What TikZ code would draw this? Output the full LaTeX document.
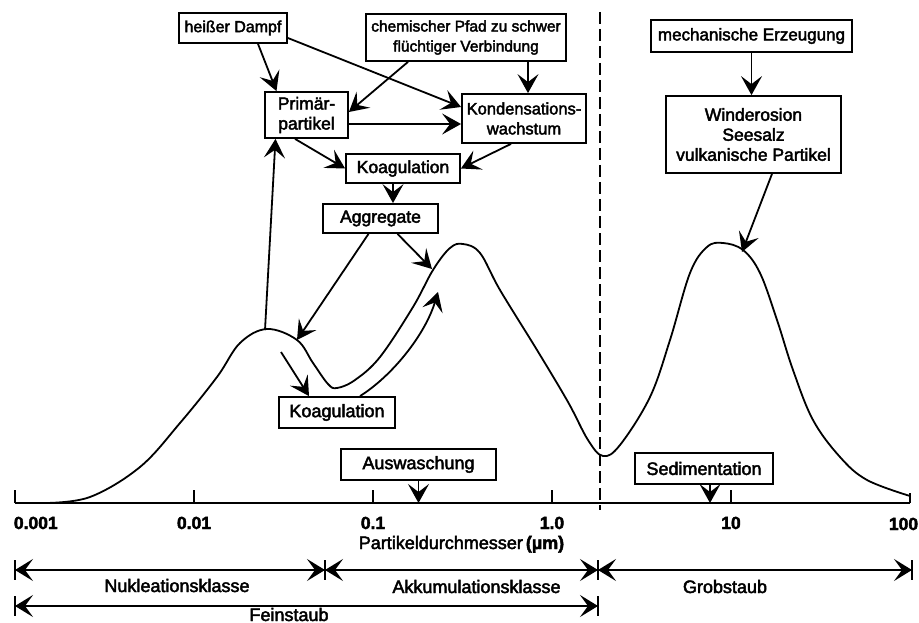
\documentclass[tikz,border=0pt]{standalone}
\usepackage{fontspec}
\setmainfont{Liberation Sans}[FakeBold=2.5]
\usetikzlibrary{arrows.meta}

\begin{document}
\begin{tikzpicture}[x=1pt,y=-1pt,line width=1.8pt,
  arr/.style={-{Stealth[length=19pt,width=21pt,inset=8pt]}},
  rng/.style={{Stealth[length=18pt,width=22pt,inset=8pt]}-{Stealth[length=18pt,width=22pt,inset=8pt]}},
  every node/.style={font=\fontsize{18}{20}\selectfont},
  box/.style={draw,inner sep=1pt,align=center},
  mid/.style={font=\fontsize{17.5}{20}\selectfont},
  top/.style={font=\fontsize{16.5}{20}\selectfont},
  num/.style={font=\fontsize{17.5}{20}\selectfont\bfseries,inner sep=1pt}]
\useasboundingbox (0,0) rectangle (919,623);
\node[box,top,minimum width=108pt,minimum height=30pt,font=\fontsize{16}{20}\selectfont] (heiss) at (233,28) {heißer Dampf};
\node[box,top,minimum width=200pt,minimum height=47pt,font=\fontsize{15.5}{20}\selectfont] (chem) at (466,37.5) {chemischer Pfad zu schwer\\flüchtiger Verbindung};
\node[box,mid,minimum width=83pt,minimum height=46pt] (prim) at (306.5,115) {Primär-\\partikel};
\node[box,top,minimum width=124pt,minimum height=49pt] (kond) at (524,118.5) {Kondensations-\\wachstum};
\node[box,mid,minimum width=114pt,minimum height=29pt] (koagA) at (403,168.5) {Koagulation};
\node[box,mid,minimum width=115pt,minimum height=29pt] (agg) at (380.5,218.5) {Aggregate};
\node[box,minimum width=116pt,minimum height=31pt] (koagB) at (337,412.5) {Koagulation};
\node[box,minimum width=155pt,minimum height=31pt] (ausw) at (418.5,464.5) {Auswaschung};
\node[box,minimum width=138pt,minimum height=31pt] (sedi) at (704,468.5) {Sedimentation};
\node[box,top,minimum width=201pt,minimum height=32pt,font=\fontsize{17}{20}\selectfont] (mech) at (751.5,36) {mechanische Erzeugung};
\node[box,mid,minimum width=175pt,minimum height=77pt] (wind) at (753.5,134.5) {Winderosion\\Seesalz\\vulkanische Partikel};
\coordinate (ax0) at (15,503);
\coordinate (ax1) at (910,503);
\coordinate (peakA) at (265,330);
\coordinate (aggL) at (297,340);
\coordinate (aggR) at (432,269);
\coordinate (koagS) at (281,352);
\coordinate (koagE) at (438,292);
\coordinate (peakC) at (742,252);
\coordinate (dtop) at (600,12);
\coordinate (dbot) at (600,510);
\draw plot[smooth,tension=0.6] coordinates {(45,503) (90,497) (140,467) (180,423) (217,377) (240,343) (267,329) (297,340) (313,363) (328,384) (337,388) (355,380) (380,357) (413,307) (433,270) (450,248) (463,244) (480,253) (500,290) (537,350) (568,402) (588,440) (603,456) (620,445) (650,397) (670,340) (690,273) (707,247) (723,243) (743,250) (760,273) (777,320) (793,370) (813,420) (840,457) (867,480) (910,496)};
\draw[dash pattern=on 12pt off 5pt,line width=2.2pt] (dtop) -- (dbot);
\draw (ax0) -- (ax1);
\draw (ax0) -- ++(0,-13);
\draw (ax1) -- ++(0,-10);
\foreach \x/\t in {194/0.01,373/0.1,552/1.0,731/10} {
  \draw (\x,490) -- (\x,503);
  \node[num,anchor=base] (n\x) at (\x,529) {\t};
}
\node[num,anchor=base west] (n15) at (12,529) {0.001};
\node[num,anchor=base east] (n910) at (920,530) {100};
\node[anchor=base,inner sep=1pt] (achse) at (461.5,549) {Partikeldurchmesser\,\textbf{(µm)}};
\draw[arr] ([xshift=25pt]heiss.south) -- ([xshift=-30pt]prim.north);
\draw[arr] ([yshift=-10pt]heiss.east) -- ([yshift=11.5pt]kond.west);
\draw[arr] ([xshift=-58pt]chem.south) -- ([yshift=3pt]prim.east);
\draw[arr] ([xshift=62pt]chem.south) -- ([xshift=4pt]kond.north);
\draw[arr] ([yshift=-9pt]prim.east) -- ([yshift=-9pt]prim.east -| kond.west);
\draw[arr] ([xshift=-11.5pt]prim.south) -- (koagA.west);
\draw[arr] ([xshift=-13pt]kond.south) -- (koagA.east);
\draw[arr] ([xshift=-10pt]koagA.south) -- ([xshift=-10pt]koagA.south |- agg.north);
\draw[arr] ([xshift=-12pt]agg.south) -- (aggL);
\draw[arr] ([xshift=17pt]agg.south) -- (aggR);
\draw[arr] (peakA) -- ([xshift=-31pt]prim.south);
\draw[arr] (koagS) -- ([xshift=-28pt]koagB.north);
\draw[arr] ([xshift=23pt]koagB.north) .. controls (392,376) and (425,335) .. (koagE);
\draw[arr] (mech.south) -- (mech.south |- wind.north);
\draw[arr] ([xshift=18.5pt]wind.south) -- (peakC);
\draw[arr] (ausw.south) -- (ausw.south |- ax0);
\draw[arr] ([xshift=6pt]sedi.south) -- ([xshift=6pt]sedi.south |- ax0);
\coordinate (r0) at (15,570);
\coordinate (r1) at (325,570);
\coordinate (r2) at (598,570);
\coordinate (r3) at (912,570);
\coordinate (f0) at (15,606);
\coordinate (f1) at (598,606);
\foreach \p in {r0,r1,r2,r3,f0,f1} \draw ([yshift=10pt]\p) -- ([yshift=-10pt]\p);
\draw[rng] (r0) -- (r1);
\draw[rng] (r1) -- (r2);
\draw[rng] (r2) -- (r3);
\draw[rng] (f0) -- (f1);
\node[anchor=base] (nukl) at (177,592) {Nukleationsklasse};
\node[anchor=base] (akku) at (476.5,593) {Akkumulationsklasse};
\node[anchor=base] (grob) at (725,593) {Grobstaub};
\node[anchor=base] (fein) at (289,621) {Feinstaub};
\end{tikzpicture}
\end{document}
